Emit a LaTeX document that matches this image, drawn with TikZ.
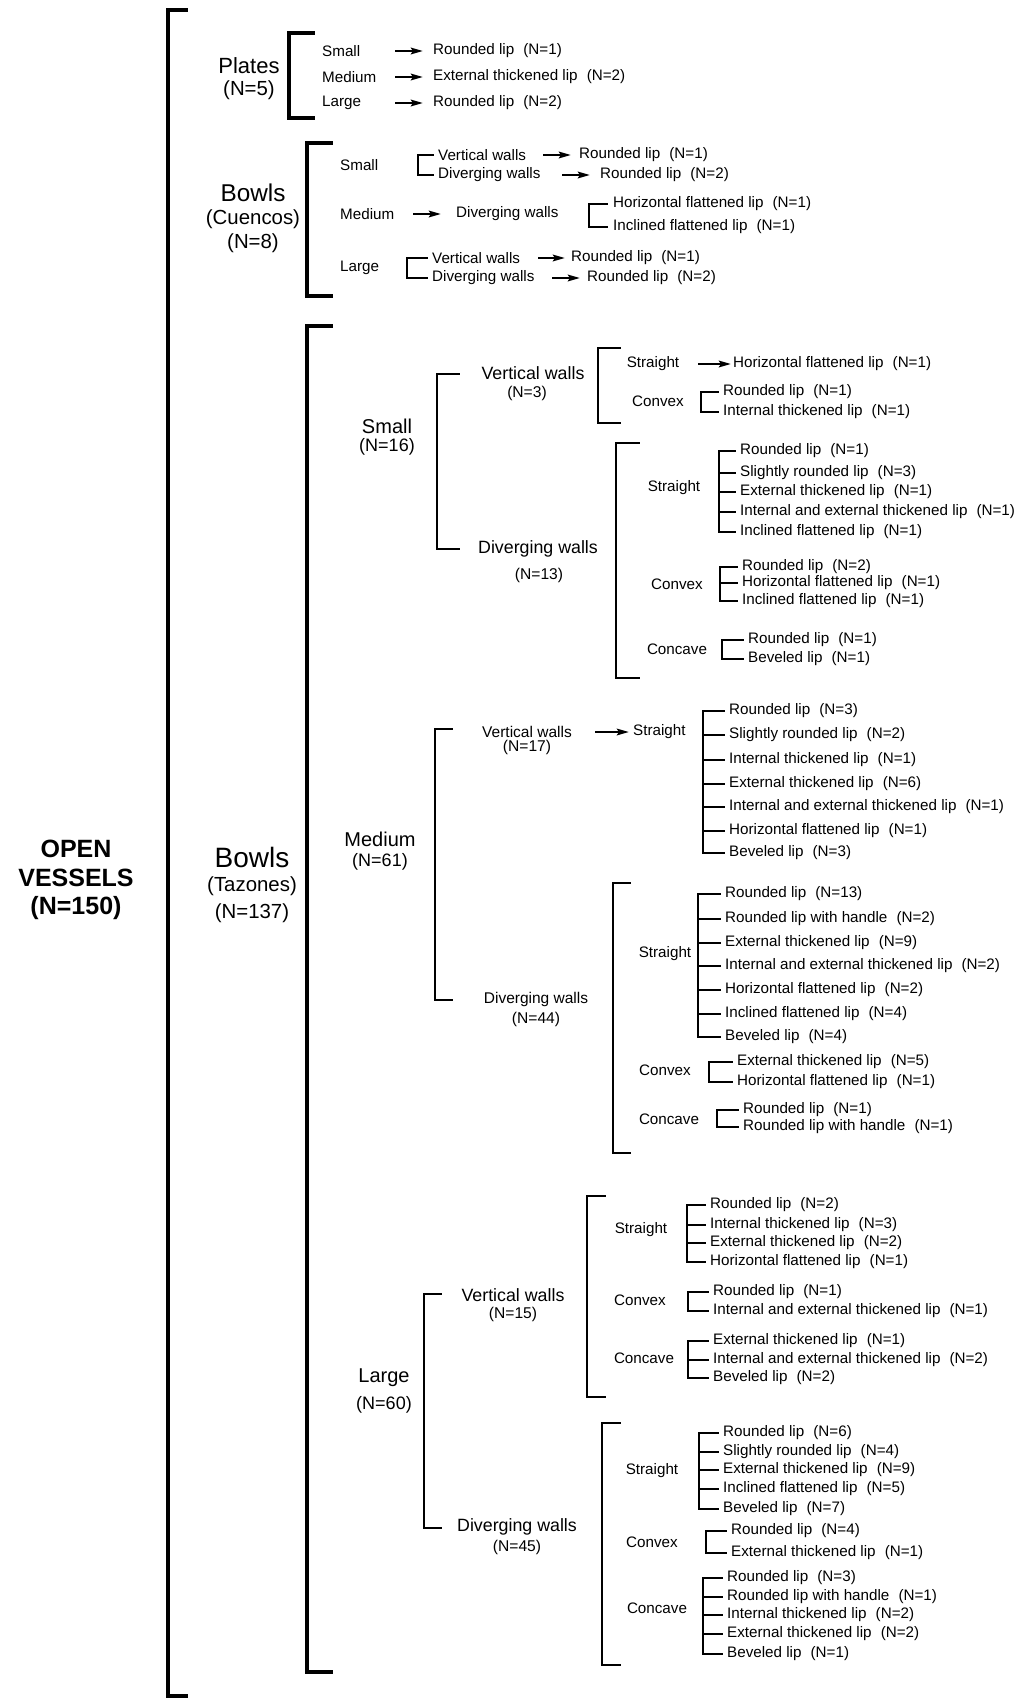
\documentclass[tikz,border=0pt]{standalone}
\usepackage{fontspec}
\setmainfont{Liberation Sans}
\usetikzlibrary{arrows.meta}

\newcommand\fsz[1]{\fontsize{#1}{#1}\selectfont}
\newcommand\cnt[1]{\hspace{.6em}(N=#1)}

% bracket drawn as a shape: style, x, top, bottom, tick end x
\newcommand\sidebar[5]{\draw[#1] (#5,#3) -- (#2,#3) -- (#2,#4) -- (#5,#4);}

% list of lips with a bracket: name, bracket x, text x, y/text/n
\newcommand\lipgroup[4]{%
  \coordinate (#1-b) at (#2,0);
  \foreach \yy/\txt/\nval [count=\i] in {#4} {
    \node[lip] (#1-\i) at (#3,\yy) {\txt\cnt{\nval}};
    \draw[lipbar] (#1-\i.west -| #1-b) -- ([xshift=-5pt]#1-\i.west);
    \xdef\lastlip{\i}
  }
  \draw[lipbar] (#1-1.west -| #1-b) -- (#1-\lastlip.west -| #1-b);
}

\tikzset{
  mainbar/.style={line width=3.9pt, line cap=rect},
  grpbar/.style={line width=2.5pt, line cap=rect},
  lipbar/.style={line width=2.2pt, line cap=rect},
  arr/.style={line width=2.7pt, -{Stealth[length=12pt,width=6.5pt,inset=2pt]}},
  top/.style={align=center, inner sep=0pt, font=\bfseries\fontsize{25}{28.5}\selectfont},
  grp/.style={inner sep=0pt, font=\fsz{22}},
  grpn/.style={inner sep=0pt, font=\fsz{20.4}},
  size/.style={inner sep=0pt, font=\fsz{20}},
  sizen/.style={inner sep=0pt, font=\fsz{18}},
  walls/.style={inner sep=0pt, font=\fsz{17.8}},
  wallsm/.style={inner sep=0pt, font=\fsz{15.5}},
  walln/.style={inner sep=0pt, font=\fsz{15.6}},
  toptxt/.style={anchor=west, inner sep=0pt, font=\fsz{15.2}},
  lab/.style={inner sep=0pt, font=\fsz{15.2}},
  lip/.style={anchor=west, inner sep=0pt, font=\fsz{15.2}}
}

\begin{document}
\begin{tikzpicture}[x=1pt,y=-1pt]
  \useasboundingbox (0,0) rectangle (1019,1699);

  % open vessels
  \node[top] (ov) at (76,880) {OPEN\\VESSELS\\(N=150)};
  \sidebar{mainbar}{168}{10}{1696}{186}

  % plates
  \node[grp] (pl) at (249,66) {Plates};
  \node[grpn] (pl-n) at (249,90) {(N=5)};
  \sidebar{mainbar}{289}{33}{118}{313}
  \node[toptxt] (pl-s) at (322,51) {Small};
  \node[toptxt] (pl-m) at (322,77) {Medium};
  \node[toptxt] (pl-l) at (322,103) {Large};
  \node[toptxt] (pl-s-lip) at (433,51) {Rounded lip\cnt{1}};
  \node[toptxt] (pl-m-lip) at (433,77) {External thickened lip\cnt{2}};
  \node[toptxt] (pl-l-lip) at (433,103) {Rounded lip\cnt{2}};
  \coordinate (pl-s-a) at (395,51);
  \coordinate (pl-m-a) at (395,77);
  \coordinate (pl-l-a) at (395,103);
  \draw[arr, shorten >=10pt] (pl-s-a) -- (pl-s-lip);
  \draw[arr, shorten >=10pt] (pl-m-a) -- (pl-m-lip);
  \draw[arr, shorten >=10pt] (pl-l-a) -- (pl-l-lip);

  % bowls (cuencos)
  \node[inner sep=0pt, font=\fsz{24.3}] (bc) at (253,193) {Bowls};
  \node[grpn] (bc-c) at (253,219) {(Cuencos)};
  \node[grpn] (bc-n) at (253,243) {(N=8)};
  \sidebar{mainbar}{307}{143}{296}{331}
  \node[toptxt] (bc-s) at (340,165) {Small};
  \node[toptxt] (bc-m) at (340,214) {Medium};
  \node[toptxt] (bc-l) at (340,268) {Large};

  \node[toptxt] (bc-s-v) at (438,155) {Vertical walls};
  \node[toptxt] (bc-s-d) at (438,175) {Diverging walls};
  \sidebar{lipbar}{418}{155}{175}{433}
  \node[toptxt] (bc-s-v-lip) at (579,155) {Rounded lip\cnt{1}};
  \node[toptxt] (bc-s-d-lip) at (600,175) {Rounded lip\cnt{2}};
  \coordinate (bc-s-v-a) at (543,155);
  \coordinate (bc-s-d-a) at (562,175);
  \draw[arr, shorten >=8pt] (bc-s-v-a) -- (bc-s-v-lip);
  \draw[arr, shorten >=10pt] (bc-s-d-a) -- (bc-s-d-lip);

  \node[toptxt] (bc-m-d) at (456,214) {Diverging walls};
  \coordinate (bc-m-a) at (413,214);
  \draw[arr, shorten >=15pt] (bc-m-a) -- (bc-m-d);
  \node[toptxt] (bc-m-h) at (613,204) {Horizontal flattened lip\cnt{1}};
  \node[toptxt] (bc-m-i) at (613,227) {Inclined flattened lip\cnt{1}};
  \sidebar{lipbar}{589}{204}{227}{607}

  \node[toptxt] (bc-l-v) at (432,258) {Vertical walls};
  \node[toptxt] (bc-l-d) at (432,278) {Diverging walls};
  \sidebar{lipbar}{407}{258}{278}{427}
  \node[toptxt] (bc-l-v-lip) at (571,258) {Rounded lip\cnt{1}};
  \node[toptxt] (bc-l-d-lip) at (587,278) {Rounded lip\cnt{2}};
  \coordinate (bc-l-v-a) at (538,258);
  \coordinate (bc-l-d-a) at (552,278);
  \draw[arr, shorten >=6pt] (bc-l-v-a) -- (bc-l-v-lip);
  \draw[arr, shorten >=7pt] (bc-l-d-a) -- (bc-l-d-lip);

  % bowls (tazones)
  \node[inner sep=0pt, font=\fsz{28}] (bt) at (252,857) {Bowls};
  \node[grpn] (bt-t) at (252,886) {(Tazones)};
  \node[grpn] (bt-n) at (252,913) {(N=137)};
  \sidebar{mainbar}{307}{326}{1672}{331}

  % small
  \node[size] (ts) at (387,426) {Small};
  \node[sizen] (ts-n) at (387,447) {(N=16)};
  \sidebar{grpbar}{437}{374}{549}{459}
  \node[walls] (ts-v) at (533,373) {Vertical walls};
  \node[walln] (ts-v-n) at (527,393) {(N=3)};
  \node[walls] (ts-d) at (538,549) {Diverging walls};
  \node[walln] (ts-d-n) at (539,575) {(N=13)};

  \sidebar{grpbar}{598}{348}{423}{620}
  \node[lab] (ts-v-st) at (653,364) {Straight};
  \node[lip] (ts-v-st-lip) at (733,364) {Horizontal flattened lip\cnt{1}};
  \coordinate (ts-v-st-a) at (698,364);
  \draw[arr, shorten >=2pt] (ts-v-st-a) -- (ts-v-st-lip);
  \node[lab] (ts-v-cx) at (658,401) {Convex};
  \lipgroup{ts-v-cx}{701}{723}{392/Rounded lip/1, 412/Internal thickened lip/1}

  \sidebar{grpbar}{616}{443}{678}{639}
  \node[lab] (ts-d-st) at (674,488) {Straight};
  \lipgroup{ts-d-st}{719}{740}{451/Rounded lip/1, 473/Slightly rounded lip/3, 492/External thickened lip/1, 512/Internal and external thickened lip/1, 532/Inclined flattened lip/1}
  \node[lab] (ts-d-cx) at (677,584) {Convex};
  \lipgroup{ts-d-cx}{720}{742}{567/Rounded lip/2, 583/Horizontal flattened lip/1, 601/Inclined flattened lip/1}
  \node[lab] (ts-d-cc) at (677,649) {Concave};
  \lipgroup{ts-d-cc}{722}{748}{640/Rounded lip/1, 659/Beveled lip/1}

  % medium
  \node[size] (tm) at (380,839) {Medium};
  \node[sizen] (tm-n) at (380,862) {(N=61)};
  \sidebar{grpbar}{435}{729}{1000}{452}
  \node[wallsm] (tm-v) at (527,732) {Vertical walls};
  \node[walln] (tm-v-n) at (527,747) {(N=17)};
  \node[lip] (tm-v-st) at (633,732) {Straight};
  \coordinate (tm-v-a) at (595,732);
  \draw[arr, shorten >=4pt] (tm-v-a) -- (tm-v-st);
  \lipgroup{tm-v-st}{703}{729}{711/Rounded lip/3, 735/Slightly rounded lip/2, 760/Internal thickened lip/1, 784/External thickened lip/6, 807/Internal and external thickened lip/1, 831/Horizontal flattened lip/1, 853/Beveled lip/3}

  \node[wallsm] (tm-d) at (536,999) {Diverging walls};
  \node[walln] (tm-d-n) at (536,1019) {(N=44)};
  \sidebar{grpbar}{613}{883}{1153}{630}
  \node[lab] (tm-d-st) at (665,954) {Straight};
  \lipgroup{tm-d-st}{698}{725}{894/Rounded lip/13, 919/Rounded lip with handle/2, 943/External thickened lip/9, 966/Internal and external thickened lip/2, 990/Horizontal flattened lip/2, 1014/Inclined flattened lip/4, 1037/Beveled lip/4}
  \node[lab] (tm-d-cx) at (665,1070) {Convex};
  \lipgroup{tm-d-cx}{709}{737}{1062/External thickened lip/5, 1082/Horizontal flattened lip/1}
  \node[lab] (tm-d-cc) at (669,1119) {Concave};
  \lipgroup{tm-d-cc}{717}{743}{1110/Rounded lip/1, 1127/Rounded lip with handle/1}

  % large
  \node[size] (tl) at (384,1378) {Large};
  \node[sizen] (tl-n) at (384,1405) {(N=60)};
  \sidebar{grpbar}{424}{1294}{1528}{441}
  \node[walls] (tl-v) at (513,1295) {Vertical walls};
  \node[walln] (tl-v-n) at (513,1314) {(N=15)};
  \sidebar{grpbar}{587}{1196}{1397}{605}
  \node[lab] (tl-v-st) at (641,1230) {Straight};
  \lipgroup{tl-v-st}{687}{710}{1205/Rounded lip/2, 1225/Internal thickened lip/3, 1243/External thickened lip/2, 1262/Horizontal flattened lip/1}
  \node[lab] (tl-v-cx) at (640,1300) {Convex};
  \lipgroup{tl-v-cx}{688}{713}{1292/Rounded lip/1, 1311/Internal and external thickened lip/1}
  \node[lab] (tl-v-cc) at (644,1358) {Concave};
  \lipgroup{tl-v-cc}{688}{713}{1341/External thickened lip/1, 1360/Internal and external thickened lip/2, 1378/Beveled lip/2}

  \node[walls] (tl-d) at (517,1527) {Diverging walls};
  \node[walln] (tl-d-n) at (517,1547) {(N=45)};
  \sidebar{grpbar}{602}{1423}{1665}{620}
  \node[lab] (tl-d-st) at (652,1471) {Straight};
  \lipgroup{tl-d-st}{699}{723}{1433/Rounded lip/6, 1452/Slightly rounded lip/4, 1470/External thickened lip/9, 1489/Inclined flattened lip/5, 1509/Beveled lip/7}
  \node[lab] (tl-d-cx) at (652,1542) {Convex};
  \lipgroup{tl-d-cx}{706}{731}{1531/Rounded lip/4, 1553/External thickened lip/1}
  \node[lab] (tl-d-cc) at (657,1608) {Concave};
  \lipgroup{tl-d-cc}{703}{727}{1578/Rounded lip/3, 1597/Rounded lip with handle/1, 1615/Internal thickened lip/2, 1634/External thickened lip/2, 1654/Beveled lip/1}

\end{tikzpicture}
\end{document}
